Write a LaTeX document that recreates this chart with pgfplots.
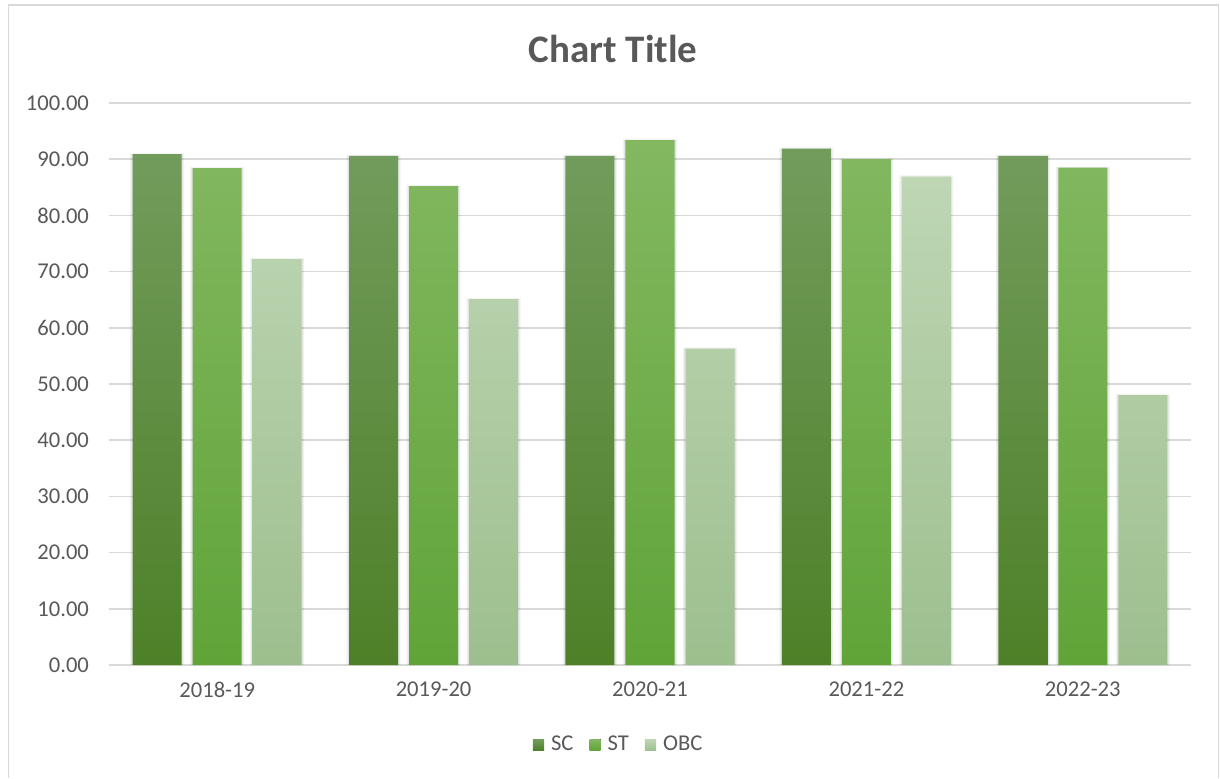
\documentclass[border=0pt]{standalone}
\usepackage{pgfplots}
\pgfplotsset{compat=1.18}
\usepackage{fontspec}
\setmainfont{Carlito}
\definecolor{txt}{HTML}{595959}
\definecolor{gridc}{HTML}{D9D9D9}
\definecolor{sctop}{RGB}{114,156,92}
\definecolor{scbot}{RGB}{78,128,40}
\definecolor{sttop}{RGB}{131,184,97}
\definecolor{stbot}{RGB}{96,164,56}
\definecolor{obctop}{RGB}{190,214,180}
\definecolor{obcbot}{RGB}{157,191,142}
\pgfplotsset{
  sqleg/.style={legend image code/.code={\fill[##1] (0pt,-2.8pt) rectangle (5.6pt,2.8pt);}},
  halo/.style={forget plot, draw=none, fill=black, opacity=#1},
}
\begin{document}
\begin{tikzpicture}[x=0.5pt,y=0.5pt]
\useasboundingbox (0,0) rectangle (1220,778);
\fill[white] (0,0) rectangle (1220,778);
\draw[gridc, line width=0.75pt] (8.5,0) -- (8.5,773) -- (1218.5,773) -- (1218.5,0);
\node[text=txt, font=\fontsize{19.5}{23}\selectfont\bfseries, anchor=base] at (613,715) {Chart Title};
\begin{axis}[
  at={(54.5pt,56.5pt)}, anchor=south west,
  scale only axis, width=541pt, height=281pt,
  ybar, bar width=24.5pt,
  xmin=-0.5, xmax=4.5, ymin=0, ymax=100,
  xtick={0,1,2,3,4},
  xticklabels={2018-19,2019-20,2020-21,2021-22,2022-23},
  ytick={0,10,...,100},
  ticklabel style={font=\fontsize{11.3}{13}\selectfont, text=txt},
  xticklabel style={yshift=-5pt},
  yticklabel style={xshift=-6.5pt, /pgf/number format/.cd, fixed, fixed zerofill, precision=2, assume math mode=true},
  major tick length=0pt,
  axis lines*=left,
  y axis line style={draw=none},
  x axis line style={draw=gridc, line width=0.75pt},
  ymajorgrids, grid style={gridc, line width=0.75pt},
  legend style={at={(0.472,-0.142)}, anchor=center, draw=none, legend columns=3,
    font=\fontsize{11.3}{13}\selectfont, text=txt,
    /tikz/every even column/.append style={column sep=6pt},
    /tikz/every odd column/.append style={column sep=1.5pt}},
]
% soft shadows
\addplot[halo=0.05, bar width=27pt, bar shift=-30pt] coordinates {(0,91.1) (1,90.8) (2,90.8) (3,92.1) (4,90.8)};
\addplot[halo=0.05, bar width=27pt, bar shift=0pt] coordinates {(0,88.6) (1,85.4) (2,93.6) (3,90.2) (4,88.7)};
\addplot[halo=0.05, bar width=27pt, bar shift=30pt] coordinates {(0,72.4) (1,65.3) (2,56.5) (3,87.1) (4,48.2)};
\addplot[halo=0.06, bar width=25.8pt, bar shift=-30pt] coordinates {(0,90.9) (1,90.6) (2,90.6) (3,91.9) (4,90.6)};
\addplot[halo=0.06, bar width=25.8pt, bar shift=0pt] coordinates {(0,88.4) (1,85.2) (2,93.4) (3,90.0) (4,88.5)};
\addplot[halo=0.06, bar width=25.8pt, bar shift=30pt] coordinates {(0,72.2) (1,65.1) (2,56.3) (3,86.9) (4,48.0)};
% bars
\addplot[sqleg, bar shift=-30pt, draw=none, top color=sctop, bottom color=scbot]
  coordinates {(0,90.9) (1,90.6) (2,90.6) (3,91.9) (4,90.6)};
\addplot[sqleg, bar shift=0pt, draw=none, top color=sttop, bottom color=stbot]
  coordinates {(0,88.4) (1,85.2) (2,93.4) (3,90.0) (4,88.5)};
\addplot[sqleg, bar shift=30pt, draw=none, top color=obctop, bottom color=obcbot]
  coordinates {(0,72.2) (1,65.1) (2,56.3) (3,86.9) (4,48.0)};
\legend{SC,ST,OBC}
\end{axis}
\end{tikzpicture}
\end{document}
